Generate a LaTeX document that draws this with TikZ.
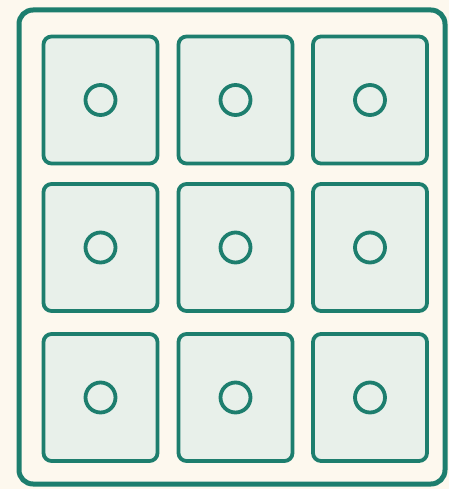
\documentclass[tikz,border=0pt]{standalone}
\definecolor{bg}{HTML}{FDF8EE}
\definecolor{teal}{HTML}{1D7E6E}
\definecolor{cellfill}{HTML}{E8F0EA}
\begin{document}
\begin{tikzpicture}[x=1pt,y=-1pt,
  cellbox/.style={draw=teal, line width=3.8pt, fill=cellfill, rounded corners=8pt, minimum width=114pt, minimum height=127pt, inner sep=0pt},
  dot/.style={circle, draw=teal, line width=3.8pt, minimum size=30pt, inner sep=0pt, fill=cellfill}]
\fill[bg] (0,0) rectangle (449,489);
\useasboundingbox (0,0) rectangle (449,489);
\draw[teal, line width=5pt, rounded corners=14pt, fill=bg] (19,10) rectangle (445,484) coordinate (outerse);
\foreach \c/\x in {1/100.5,2/235.5,3/370} {
  \foreach \r/\y in {1/100,2/247.5,3/397.5} {
    \node[cellbox] (cell\r\c) at (\x,\y) {};
    \node[dot] (dot\r\c) at (cell\r\c.center) {};
  }
}
\end{tikzpicture}
\end{document}
